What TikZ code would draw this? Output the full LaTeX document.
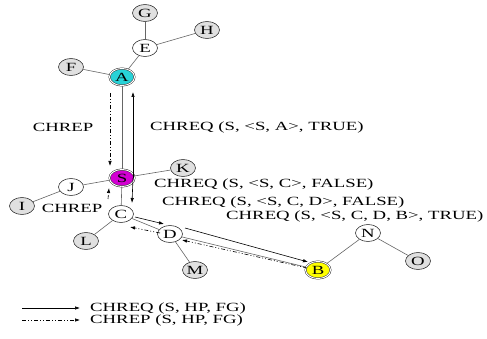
\documentclass[tikz,border=0pt]{standalone}
\usepackage{fontspec}
\usepackage{graphicx}
\setmainfont{Liberation Serif}
\usetikzlibrary{shapes.geometric,calc,arrows.meta}
\newcommand{\sx}[1]{\scalebox{1.5}[1]{#1}}
\definecolor{ndgray}{RGB}{224,224,224}
\definecolor{ndcyan}{RGB}{40,210,215}
\definecolor{ndmag}{RGB}{210,0,210}
\definecolor{ndyel}{RGB}{255,255,0}
\begin{document}
\begin{tikzpicture}[x=1pt,y=-1pt,
  nd/.style={ellipse,draw=black!85,line width=0.55pt,minimum width=25pt,minimum height=17pt,inner sep=0pt,font=\fontsize{12.5}{13}\selectfont},
  gnd/.style={nd,fill=ndgray},
  wnd/.style={nd,fill=white},
  dnd/.style={nd,double=white,double distance=1pt,line width=0.45pt},
  edg/.style={draw=black!60,line width=0.6pt},
  req/.style={-{Latex[length=5pt,width=3.5pt]},line width=0.6pt},
  rep/.style={req,dash pattern=on 4pt off 2pt on 1pt off 2pt on 1pt off 2pt},
  lbl/.style={inner sep=0pt,font=\fontsize{12.5}{13}\selectfont}
]
\useasboundingbox[fill=white] (0,0) rectangle (487,339);
% nodes
\node[gnd] (G) at (145,13) {\sx{G}};
\node[gnd] (H) at (207,30) {\sx{H}};
\node[wnd] (E) at (145,48) {\sx{E}};
\node[gnd] (F) at (71,67) {\sx{F}};
\node[dnd,fill=ndcyan] (A) at (122,77) {\sx{A}};
\node[dnd,fill=ndmag] (S) at (122,178) {\sx{S}};
\node[gnd] (K) at (183,168) {\sx{K}};
\node[wnd] (J) at (71,187) {\sx{J}};
\node[gnd] (I) at (22,206) {\sx{I}};
\node[wnd] (C) at (121,214) {\sx{C}};
\node[gnd] (L) at (86,241) {\sx{L}};
\node[wnd] (D) at (170,234) {\sx{D}};
\node[gnd] (M) at (195,270) {\sx{M}};
\node[dnd,fill=ndyel] (B) at (318,270) {\sx{B}};
\node[wnd] (N) at (368,233) {\sx{N}};
\node[gnd] (O) at (418,261) {\sx{O}};
% edges
\draw[edg] (G) -- (E);
\draw[edg] (H) -- (E);
\draw[edg] (E) -- (A);
\draw[edg] (F) -- (A);
\draw[edg] (A) -- (S);
\draw[edg] (S) -- (K);
\draw[edg] (S) -- (J);
\draw[edg] (J) -- (I);
\draw[edg] (S) -- (C);
\draw[edg] (C) -- (L);
\draw[edg] (C) -- (D);
\draw[edg] (D) -- (M);
\draw[edg] (D) -- (B);
\draw[edg] (B) -- (N);
\draw[edg] (N) -- (O);
% messages
\draw[rep] ($(A)+(-12,16)$) -- ($(S)+(-12,-12)$);
\draw[req] ($(S)+(11,0)$) -- ($(A)+(11,15)$);
\draw[req] ($(S)+(11,0)$) -- ($(C)+(11,-11)$);
\draw[rep] ($(C)+(-13,-15)$) -- ($(S)+(-13,10)$);
\draw[req] ($(C)+(14,3)$) -- ($(D)+(-6,-10)$);
\draw[rep] ($(D)+(-10,-1)$) -- ($(C)+(9,13)$);
\draw[req] ($(D)+(15,-6)$) -- ($(B)+(-10,-8)$);
\draw[rep] ($(B)+(-11,-2)$) -- ($(D)+(12,6)$);
% labels
\node[lbl] (t0) at (63,127) {\sx{CHREP}};
\node[lbl,anchor=west] (t1) at (150,127) {\sx{CHREQ (S, <S, A>, TRUE)}};
\node[lbl,anchor=west] (t2) at (154,184) {\sx{CHREQ (S, <S, C>, FALSE)}};
\node[lbl,anchor=west] (t3) at (162,202) {\sx{CHREQ (S, <S, C, D>, FALSE)}};
\node[lbl,anchor=west] (t4) at (226,216) {\sx{CHREQ (S, <S, C, D, B>, TRUE)}};
\node[lbl] (t5) at (72,208) {\sx{CHREP}};
% legend
\coordinate (l1s) at (22,308);
\coordinate (l1e) at (80,308);
\coordinate (l2s) at (22,320);
\coordinate (l2e) at (80,320);
\draw[req] (l1s) -- (l1e);
\draw[rep] (l2s) -- (l2e);
\node[lbl,anchor=west] (lg1) at (90,308) {\sx{CHREQ (S, HP, FG)}};
\node[lbl,anchor=west] (lg2) at (90,320) {\sx{CHREP (S, HP, FG)}};
\end{tikzpicture}
\end{document}
